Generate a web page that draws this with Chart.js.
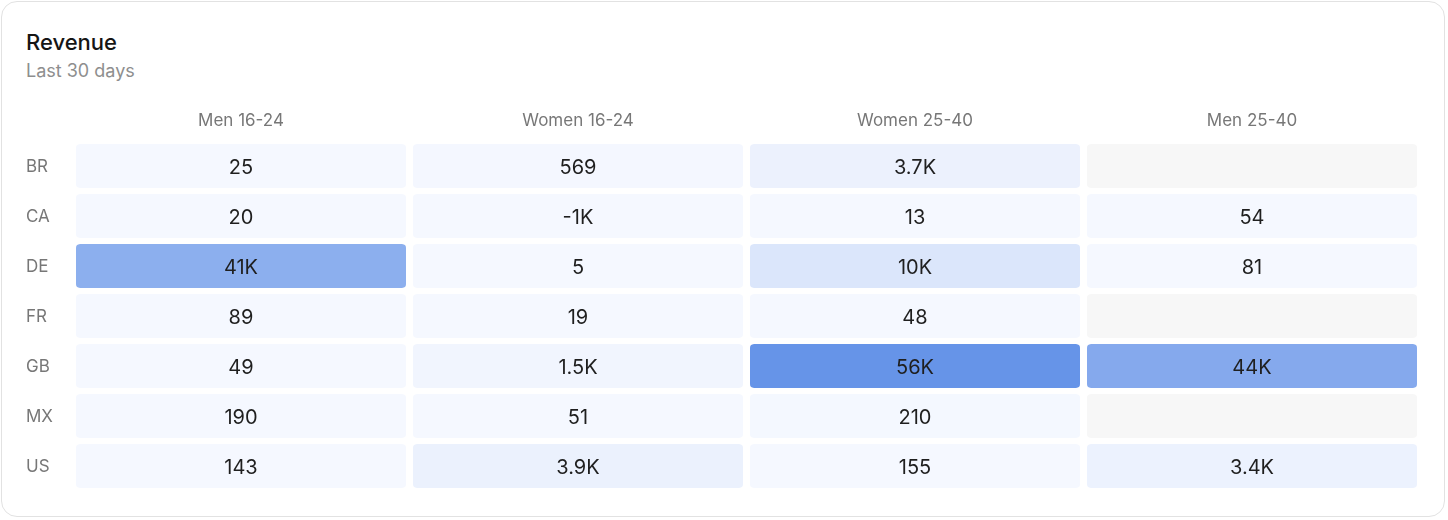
<!DOCTYPE html>
<html>
<head>
<meta charset="utf-8">
<script src="https://cdn.jsdelivr.net/npm/chart.js@4/dist/chart.umd.min.js"></script>
<style>
  html, body { margin: 0; padding: 0; background: #fff; }
  body { width: 1448px; height: 520px; position: relative; overflow: hidden; font-family: Inter, "Noto Sans", sans-serif; }
  .card { position: absolute; left: 1px; top: 1px; width: 1444px; height: 516px; border: 1px solid #e2e2e2; border-radius: 16px; box-sizing: border-box; }
  .title { position: absolute; left: 26px; top: 29px; font-size: 22px; font-weight: 500; color: #151515; line-height: 26px; }
  .subtitle { position: absolute; left: 26px; top: 60px; font-size: 18px; color: #8e8e8e; line-height: 22px; }
  canvas { position: absolute; left: 0; top: 0; }
</style>
</head>
<body>
<div class="card"></div>
<div class="title">Revenue</div>
<div class="subtitle">Last 30 days</div>
<canvas id="c" width="1448" height="520"></canvas>
<script>
const countries = ['BR', 'CA', 'DE', 'FR', 'GB', 'MX', 'US'];
const segments = ['Men 16-24', 'Women 16-24', 'Women 25-40', 'Men 25-40'];
const men1624   = [25, 20, 41000, 89, 49, 190, 143];
const women1624 = [569, -1000, 5, 19, 1500, 51, 3900];
const women2540 = [3700, 13, 10000, 48, 56000, 210, 155];
const men2540   = [null, 54, 81, null, 44000, null, 3400];
const seriesValues = [men1624, women1624, women2540, men2540];

const maxVal = Math.max(...seriesValues.flat().filter(v => v !== null));
const lo = [245, 248, 255], hi = [102, 148, 232];
function cellColor(v) {
  if (v === null || v === undefined) return '#f7f7f7';
  const t = Math.max(0, v) / maxVal;
  const c = lo.map((l, i) => Math.round(l + (hi[i] - l) * t));
  return `rgb(${c[0]},${c[1]},${c[2]})`;
}
function fmt(v) {
  if (v === null) return '';
  if (Math.abs(v) >= 1000) {
    let s = (v / 1000).toFixed(1);
    if (s.endsWith('.0')) s = s.slice(0, -2);
    return s + 'K';
  }
  return String(v);
}

const datasets = segments.map((seg, c) => ({
  label: seg,
  data: countries.map(() => [c, c + 1]),
  backgroundColor: countries.map((_, r) => cellColor(seriesValues[c][r])),
  borderColor: 'rgba(0,0,0,0)',
  borderWidth: { left: 3.5, right: 3.5, top: 0, bottom: 0 },
  borderSkipped: false,
  borderRadius: 7.5,
  grouped: false,
  categoryPercentage: 1,
  barPercentage: 0.88
}));

const valueLabels = {
  id: 'valueLabels',
  afterDatasetsDraw(chart) {
    const ctx = chart.ctx;
    ctx.save();
    ctx.font = '20px Inter, "Noto Sans", sans-serif';
    ctx.fillStyle = '#1f1f1f';
    ctx.textAlign = 'center';
    ctx.textBaseline = 'middle';
    chart.data.datasets.forEach((ds, c) => {
      chart.getDatasetMeta(c).data.forEach((el, r) => {
        const v = seriesValues[c][r];
        if (v === null) return;
        ctx.fillText(fmt(v), (el.x + el.base) / 2, el.y + 1.5);
      });
    });
    ctx.restore();
  }
};

new Chart(document.getElementById('c'), {
  type: 'bar',
  data: { labels: countries, datasets },
  options: {
    indexAxis: 'y',
    responsive: false,
    animation: false,
    layout: { padding: { left: 26, right: 27.5, top: 100, bottom: 29 } },
    plugins: { legend: { display: false }, tooltip: { enabled: false }, title: { display: false } },
    scales: {
      x: { type: 'linear', min: 0, max: segments.length, display: false },
      xTop: {
        type: 'category', labels: segments, position: 'top', offset: true,
        grid: { display: false, drawTicks: false }, border: { display: false },
        ticks: { color: '#777', font: { family: 'Inter, "Noto Sans", sans-serif', size: 17 }, padding: 10 },
        afterFit(s) { s.height = 41; }
      },
      y: {
        type: 'category',
        grid: { display: false, drawTicks: false }, border: { display: false },
        ticks: { crossAlign: 'far', color: '#777', font: { family: 'Inter, "Noto Sans", sans-serif', size: 17 }, padding: 0, labelOffset: 1 },
        afterFit(s) { s.width = 46.5; }
      }
    }
  },
  plugins: [valueLabels]
});
</script>
</body>
</html>
